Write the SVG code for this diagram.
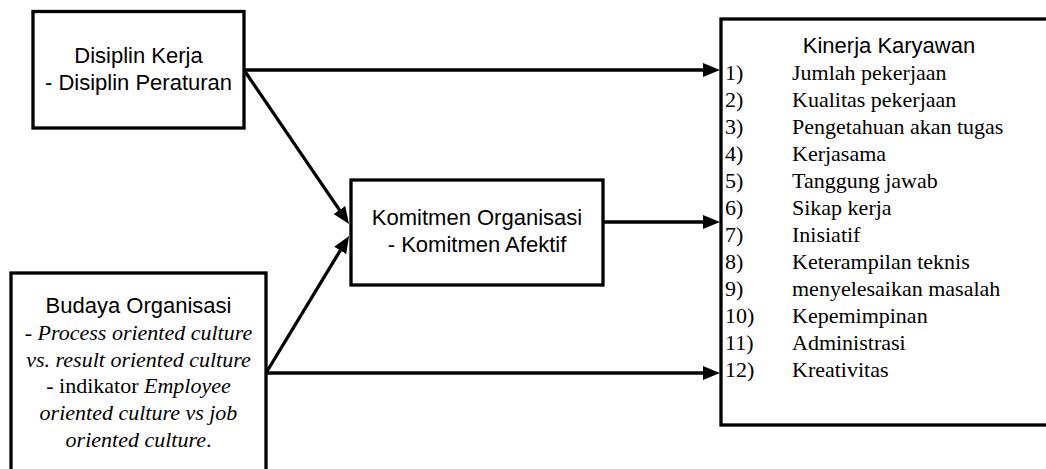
<svg xmlns="http://www.w3.org/2000/svg" width="1046" height="469" viewBox="0 0 1046 469">
<style>
.box{fill:#fff;stroke:#000;stroke-width:3.3}
.sans{font-family:"Liberation Sans",Arial,sans-serif;font-size:22px;fill:#000}
.serif{font-family:"Liberation Serif","Times New Roman",serif;font-size:22px;fill:#000}
.it{font-style:italic}
.edge{stroke:#000;stroke-width:3.3;fill:none}
</style>
<defs>
<marker id="arrow" markerUnits="userSpaceOnUse" markerWidth="17" markerHeight="14" refX="9" refY="7" orient="auto">
<path d="M0,0 L17,7 L0,14 z" fill="#000"/>
</marker>
</defs>
<rect width="1046" height="469" fill="#fff"/>
<g id="edges">
<line class="edge" x1="244" y1="70" x2="712" y2="70" marker-end="url(#arrow)"/>
<line class="edge" x1="244" y1="70" x2="344.5" y2="217.4" marker-end="url(#arrow)"/>
<line class="edge" x1="266" y1="373" x2="344.9" y2="242.8" marker-end="url(#arrow)"/>
<line class="edge" x1="603" y1="222" x2="712" y2="222" marker-end="url(#arrow)"/>
<line class="edge" x1="266" y1="373" x2="712" y2="373" marker-end="url(#arrow)"/>
</g>
<g id="disiplin">
<rect class="box" x="33" y="11.5" width="211" height="116.5"/>
<text class="sans" x="138.5" y="63" text-anchor="middle">Disiplin Kerja</text>
<text class="sans" x="138.5" y="90" text-anchor="middle">- Disiplin Peraturan</text>
</g>
<g id="komitmen">
<rect class="box" x="351" y="180" width="252" height="105"/>
<text class="sans" x="477" y="225" text-anchor="middle">Komitmen Organisasi</text>
<text class="sans" x="477" y="252" text-anchor="middle">- Komitmen Afektif</text>
</g>
<g id="budaya">
<rect class="box" x="11" y="273" width="255" height="230"/>
<text class="sans" x="138.5" y="313" text-anchor="middle">Budaya Organisasi</text>
<text class="serif it" x="138.5" y="340" text-anchor="middle">- Process oriented culture</text>
<text class="serif it" x="138.5" y="367" text-anchor="middle">vs. result oriented culture</text>
<text class="serif" x="138.5" y="393" text-anchor="middle">- indikator <tspan class="it">Employee</tspan></text>
<text class="serif it" x="138.5" y="420" text-anchor="middle">oriented culture vs job</text>
<text class="serif" x="138.5" y="447" text-anchor="middle"><tspan class="it">oriented culture</tspan>.</text>
</g>
<g id="kinerja">
<rect class="box" x="721" y="19" width="340" height="406"/>
<text class="sans" x="889" y="53" text-anchor="middle">Kinerja Karyawan</text>
<g class="serif">
<text x="725" y="80">1)</text><text x="792" y="80">Jumlah pekerjaan</text>
<text x="725" y="107">2)</text><text x="792" y="107">Kualitas pekerjaan</text>
<text x="725" y="134">3)</text><text x="792" y="134">Pengetahuan akan tugas</text>
<text x="725" y="161">4)</text><text x="792" y="161">Kerjasama</text>
<text x="725" y="188">5)</text><text x="792" y="188">Tanggung jawab</text>
<text x="725" y="215">6)</text><text x="792" y="215">Sikap kerja</text>
<text x="725" y="242">7)</text><text x="792" y="242">Inisiatif</text>
<text x="725" y="269">8)</text><text x="792" y="269">Keterampilan teknis</text>
<text x="725" y="296">9)</text><text x="792" y="296">menyelesaikan masalah</text>
<text x="725" y="323">10)</text><text x="792" y="323">Kepemimpinan</text>
<text x="725" y="350">11)</text><text x="792" y="350">Administrasi</text>
<text x="725" y="377">12)</text><text x="792" y="377">Kreativitas</text>
</g>
</g>
</svg>
